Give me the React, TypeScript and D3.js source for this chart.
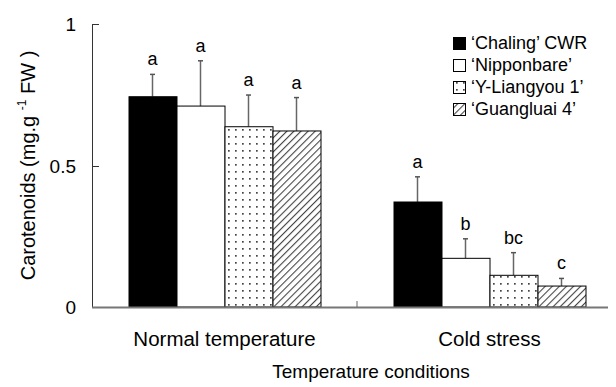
import { useEffect, useRef } from "react";
import * as d3 from "d3";

const categories = ["Normal temperature", "Cold stress"];
const cultivars = ["'Chaling' CWR", "'Nipponbare'", "'Y-Liangyou 1'", "'Guangluai 4'"];
const legendLabels = ["\u2018Chaling\u2019 CWR", "\u2018Nipponbare\u2019", "\u2018Y-Liangyou 1\u2019", "\u2018Guangluai 4\u2019"];
const normalValues = [0.743, 0.71, 0.637, 0.622];
const normalErrors = [0.079, 0.16, 0.112, 0.118];
const coldValues = [0.371, 0.172, 0.112, 0.074];
const coldErrors = [0.089, 0.069, 0.08, 0.027];
const normalLetters = ["a", "a", "a", "a"];
const coldLetters = ["a", "b", "bc", "c"];
const yTicks = [0, 0.5, 1];
const yTickLabels = ["0", "0.5", "1"];

const FONT = "'Liberation Sans', Arial, sans-serif";

const App = () => {
  const ref = useRef(null);

  useEffect(() => {
    const svg = d3.select(ref.current).attr("width", 616).attr("height", 387);
    svg.selectAll("*").remove();

    const left = 92;
    const right = 622;
    const top = 24;
    const bottom = 307;
    const groupWidth = 192;

    const defs = svg.append("defs");
    const dots = defs
      .append("pattern")
      .attr("id", "dots")
      .attr("patternUnits", "userSpaceOnUse")
      .attr("width", 7)
      .attr("height", 7);
    dots.append("rect").attr("width", 7).attr("height", 7).attr("fill", "#fff");
    dots.append("rect").attr("x", 3).attr("y", 3).attr("width", 1.7).attr("height", 1.7).attr("fill", "#444");

    const hatch = defs
      .append("pattern")
      .attr("id", "hatch")
      .attr("patternUnits", "userSpaceOnUse")
      .attr("width", 5)
      .attr("height", 5)
      .attr("patternTransform", "rotate(45)");
    hatch.append("rect").attr("width", 5).attr("height", 5).attr("fill", "#fff");
    hatch.append("line").attr("x1", 0).attr("y1", 0).attr("x2", 0).attr("y2", 5).attr("stroke", "#444").attr("stroke-width", 2.2);

    const fills = ["#000", "#fff", "url(#dots)", "url(#hatch)"];

    const x0 = d3.scaleBand().domain(categories).range([left, right]);
    const x1 = d3
      .scaleBand()
      .domain(cultivars)
      .range([(x0.bandwidth() - groupWidth) / 2, (x0.bandwidth() + groupWidth) / 2]);
    const y = d3.scaleLinear().domain([0, 1]).range([bottom, top]);

    const data = [
      { cat: categories[0], values: normalValues, errors: normalErrors, letters: normalLetters },
      { cat: categories[1], values: coldValues, errors: coldErrors, letters: coldLetters },
    ];

    // bars, error bars, letters
    data.forEach((grp) => {
      const g = svg.append("g").attr("transform", `translate(${x0(grp.cat)},0)`);
      cultivars.forEach((c, i) => {
        const v = grp.values[i];
        const e = grp.errors[i];
        const cx = x1(c) + x1.bandwidth() / 2;
        g.append("line")
          .attr("x1", cx)
          .attr("x2", cx)
          .attr("y1", y(v))
          .attr("y2", y(v + e))
          .attr("stroke", "#666")
          .attr("stroke-width", 1.5);
        g.append("line")
          .attr("x1", cx - 2.5)
          .attr("x2", cx + 2.5)
          .attr("y1", y(v + e))
          .attr("y2", y(v + e))
          .attr("stroke", "#555")
          .attr("stroke-width", 1.5);
        g.append("rect")
          .attr("x", x1(c) + 0.5)
          .attr("y", y(v))
          .attr("width", x1.bandwidth())
          .attr("height", y(0) - y(v))
          .attr("fill", fills[i])
          .attr("stroke", "#000")
          .attr("stroke-width", 1);
        g.append("text")
          .attr("x", cx)
          .attr("y", y(v + e) - 9)
          .attr("text-anchor", "middle")
          .style("font-family", FONT)
          .style("font-size", "18px")
          .text(grp.letters[i]);
      });
    });

    // y axis
    svg.append("line")
      .attr("x1", left + 0.5)
      .attr("x2", left + 0.5)
      .attr("y1", top)
      .attr("y2", bottom)
      .attr("stroke", "#333")
      .attr("stroke-width", 1);
    yTicks.forEach((t, i) => {
      svg.append("line")
        .attr("x1", left)
        .attr("x2", left + 7)
        .attr("y1", Math.round(y(t)) + 0.5)
        .attr("y2", Math.round(y(t)) + 0.5)
        .attr("stroke", "#333");
      svg.append("text")
        .attr("x", 76)
        .attr("y", y(t) + 7)
        .attr("text-anchor", "end")
        .style("font-family", FONT)
        .style("font-size", "19px")
        .text(yTickLabels[i]);
    });

    // x axis
    svg.append("line")
      .attr("x1", left)
      .attr("x2", 616)
      .attr("y1", bottom + 0.5)
      .attr("y2", bottom + 0.5)
      .attr("stroke", "#777")
      .attr("stroke-width", 2);
    svg.append("line")
      .attr("x1", x0(categories[1]))
      .attr("x2", x0(categories[1]))
      .attr("y1", bottom)
      .attr("y2", bottom - 6)
      .attr("stroke", "#666");
    categories.forEach((c) => {
      svg.append("text")
        .attr("x", x0(c) + x0.bandwidth() / 2)
        .attr("y", 346)
        .attr("text-anchor", "middle")
        .style("font-family", FONT)
        .style("font-size", "20.5px")
        .text(c);
    });

    svg.append("text")
      .attr("x", 371)
      .attr("y", 378)
      .attr("text-anchor", "middle")
      .style("font-family", FONT)
      .style("font-size", "19px")
      .text("Temperature conditions");

    const yl = svg
      .append("text")
      .attr("transform", `translate(35,${(top + bottom) / 2}) rotate(-90)`)
      .attr("text-anchor", "middle")
      .style("font-family", FONT)
      .style("font-size", "20px");
    yl.append("tspan").text("Carotenoids (mg.g ");
    yl.append("tspan").attr("dy", -9).style("font-size", "12px").text("-1");
    yl.append("tspan").attr("dy", 9).text("  FW )");

    // legend
    const legend = svg.append("g").attr("transform", "translate(453,37)");
    cultivars.forEach((c, i) => {
      legend
        .append("rect")
        .attr("x", 0.5)
        .attr("y", i * 22 + 0.5)
        .attr("width", 12)
        .attr("height", 12)
        .attr("fill", fills[i])
        .attr("stroke", "#000");
      legend
        .append("text")
        .attr("x", 18)
        .attr("y", i * 22 + 12)
        .style("font-family", FONT)
        .style("font-size", "18px")
        .text(legendLabels[i]);
    });
  }, []);

  return (
    <div style={{ margin: -8 }}>
      <svg ref={ref}></svg>
    </div>
  );
};

export default App;
